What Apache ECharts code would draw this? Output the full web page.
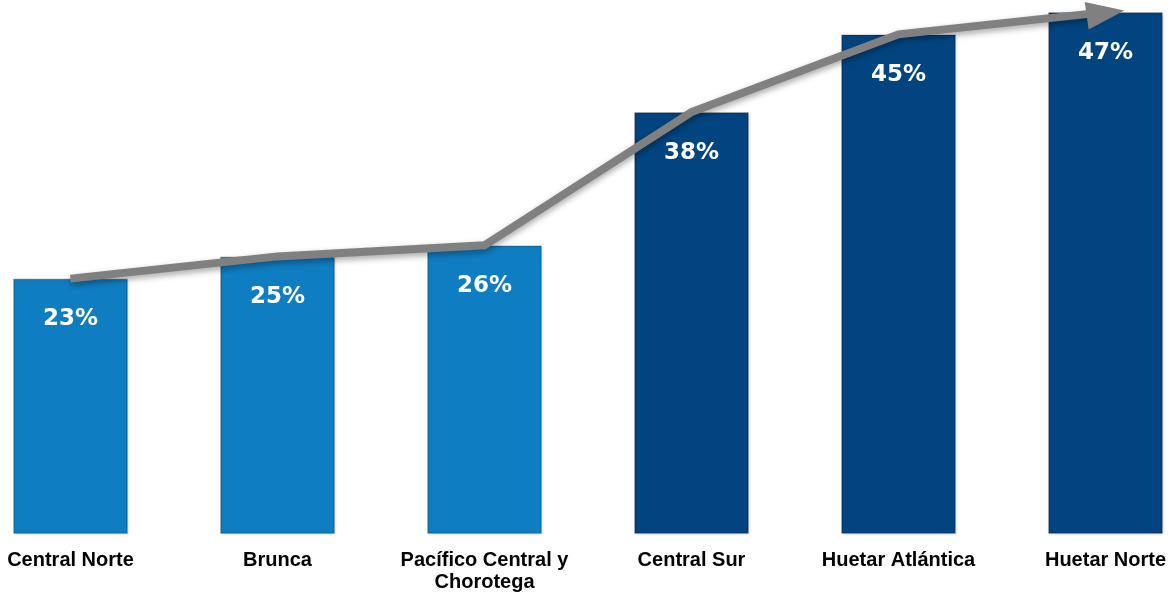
<!DOCTYPE html>
<html>
<head>
<meta charset="utf-8">
<script src="https://cdn.jsdelivr.net/npm/echarts@6/dist/echarts.min.js"></script>
<style>
  html, body { margin: 0; padding: 0; background: #ffffff; overflow: hidden; }
  #wrap { width: 1175px; height: 593px; overflow: hidden; position: relative; }
  /* plot bands are wider than the page, so the first and last are clipped at the edges */
  #chart { width: 1242px; height: 593px; position: absolute; left: -33px; top: 0; }
</style>
</head>
<body>
<div id="wrap"><div id="chart"></div></div>
<script>
// Regions and their share (%)
const regions = ['Central Norte', 'Brunca', 'Pacífico Central y\nChorotega', 'Central Sur', 'Huetar Atlántica', 'Huetar Norte'];
const shares = [23, 25, 26, 38, 45, 47];

const LIGHT = '#0f7dc1';
const DARK = '#01447f';

const chart = echarts.init(document.getElementById('chart'), null, { renderer: 'canvas' });

// Trend arrow follows the bar values; the last point carries the arrow head
const trendData = shares.map(function (v, i) {
  if (i === shares.length - 1) {
    return {
      value: v,
      symbol: 'path://M0,0 L10,5 L0,10 Z',
      symbolSize: [38, 28],
      symbolRotate: 8,
      symbolOffset: [0, 1],
      itemStyle: { color: '#808080' }
    };
  }
  return { value: v, symbol: 'none' };
});

chart.setOption({
  animation: false,
  grid: { left: 0, right: 0, top: 1, bottom: 59, containLabel: false },
  xAxis: {
    type: 'category',
    data: regions,
    axisLine: { show: false },
    axisTick: { show: false },
    axisLabel: {
      color: '#000000',
      fontFamily: 'Liberation Sans, Arial, sans-serif',
      fontWeight: 'bold',
      fontSize: 20,
      lineHeight: 22,
      margin: 15,
      interval: 0
    }
  },
  yAxis: {
    type: 'value',
    min: 0,
    max: 48,
    show: false,
    splitLine: { show: false }
  },
  series: [
    {
      type: 'bar',
      data: shares,
      barWidth: 115,
      itemStyle: {
        color: function (p) { return p.value < 30 ? LIGHT : DARK; },
        borderColor: 'rgba(0,0,0,0.18)',
        borderWidth: 1.5,
        shadowColor: 'rgba(0,0,0,0.25)',
        shadowBlur: 3,
        shadowOffsetX: 1,
        shadowOffsetY: 1
      },
      label: {
        show: true,
        position: 'insideTop',
        distance: 29,
        formatter: '{c}%',
        color: '#ffffff',
        fontFamily: 'DejaVu Sans, Verdana, sans-serif',
        fontWeight: 'bold',
        fontSize: 23
      },
      z: 2
    },
    {
      type: 'line',
      data: trendData,
      showSymbol: true,
      lineStyle: {
        color: '#808080',
        width: 8,
        cap: 'butt',
        join: 'miter',
        shadowColor: 'rgba(0,0,0,0.35)',
        shadowBlur: 6,
        shadowOffsetY: 3
      },
      itemStyle: { color: '#808080' },
      z: 5
    }
  ]
});
</script>
</body>
</html>
